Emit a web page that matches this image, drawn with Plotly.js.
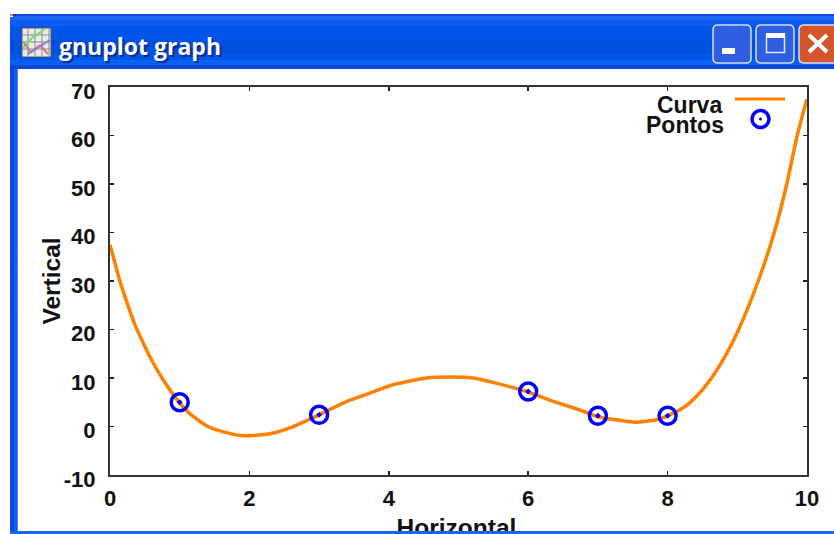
<!DOCTYPE html>
<html>
<head>
<meta charset="utf-8">
<script src="https://cdn.plot.ly/plotly-3.0.1.min.js"></script>
<style>
html,body{margin:0;padding:0;background:#fff;overflow:hidden;width:834px;height:534px}
#wrap{position:relative;width:834px;height:534px;overflow:hidden}
#chart{position:absolute;left:0;top:0;width:834px;height:531px}
#strip{position:absolute;left:10px;top:531px;width:824px;height:3px;background:#1a68ee}
g.ytick{transform:translateY(4px)}
g.g-ytitle{transform:translateX(10px)}
g.g-xtitle{transform:translate(-2px,2px)}
</style>
</head>
<body>
<div id="wrap"><div id="chart"></div><div id="strip"></div></div>
<script>
var curveName = "Curva";
var pointsName = "Pontos";
var windowTitle = "gnuplot graph";
var curveX = [0,0.14,0.24,0.36,0.48,0.6,0.765,0.98,1.15,1.39,1.63,1.91,2.3,2.6,2.98,3.4,3.73,4.06,4.54,4.88,5.21,5.55,5.98,6.3,6.74,6.98,7.25,7.53,7.84,7.98,8.22,8.42,8.63,8.83,9.02,9.3,9.53,9.71,9.86,9.97,10];
var curveY = [37.5,30.1,25.7,20.9,17.1,13.6,9.6,5.2,2.6,0.1,-1.1,-1.9,-1.5,-0.2,2.3,5.2,6.9,8.6,10.0,10.2,10.0,8.9,7.2,5.5,3.4,2.1,1.4,0.9,1.4,2.1,3.8,6.3,10,14.6,20,30,40,50,60,66,67.5];
var pointX = [1,3,6,7,8];
var pointY = [5,2.4,7.2,2.2,2.2];
var xTicks = [0,2,4,6,8,10];
var yTicks = [-10,0,10,20,30,40,50,60,70];

var L=110,R=807,T=87,B=475;
function px(x){return (x-L)/(R-L);}
function py(y){return (B-y)/(B-T);}
function rect(x0,y0,x1,y1,fill,line,lw){
  return {type:'rect',xref:'paper',yref:'paper',x0:px(x0),x1:px(x1),y0:py(y0),y1:py(y1),
    fillcolor:fill,line:{color:line||fill,width:lw||0},layer:'below'};
}
function seg(x0,y0,x1,y1,color,w){
  return {type:'line',xref:'paper',yref:'paper',x0:px(x0),x1:px(x1),y0:py(y0),y1:py(y1),
    line:{color:color,width:w},layer:'below'};
}
var shapes=[];
shapes.push(rect(10,14,17.5,531,'#0a46e2'));
shapes.push(rect(14,14,17.5,531,'#1060ee'));
var bands=[[14,16,'#0a48d8'],[16,20,'#1a66f0'],[20,26,'#0c5cf0'],[26,40,'#0054e8'],[40,54,'#0050e0'],[54,60,'#0056e8'],[60,65,'#0a60f0'],[65,69,'#0848d4']];
bands.forEach(function(b){shapes.push(rect(10,b[0],834,b[1],b[2]));});
shapes.push(rect(10,14,13,17,'#ffffff'));
shapes.push(seg(10,15,16,15,'#333344',1));
shapes.push(rect(22,28,51,57,'#e8ece8','#555566',1));
[28,35,42,49].forEach(function(x){shapes.push(seg(x,28,x,57,'#8a8a8a',1));});
[35,42,49].forEach(function(y){shapes.push(seg(22,y,51,y,'#8a8a8a',1));});
shapes.push(seg(23,48,32,38,'#70e070',2));
shapes.push(seg(32,38,45,29,'#70e070',2));
shapes.push(seg(23,42,31,52,'#e07070',2));
shapes.push(seg(31,52,40,45,'#e07070',2));
shapes.push(seg(40,45,48,54,'#e07070',2));
shapes.push(seg(28,54,50,40,'#8080e0',2));
function button(x0,x1,fill){
  var a=px(x0),b=px(x1),t=py(25),u=py(63);
  var rx=5/(R-L),ry=5/(B-T);
  return {type:'path',xref:'paper',yref:'paper',layer:'below',fillcolor:fill,line:{color:'#d4e0f8',width:1.5},
   path:'M'+(a+rx)+','+t+' L'+(b-rx)+','+t+' Q'+b+','+t+' '+b+','+(t-ry)+' L'+b+','+(u+ry)+' Q'+b+','+u+' '+(b-rx)+','+u+' L'+(a+rx)+','+u+' Q'+a+','+u+' '+a+','+(u+ry)+' L'+a+','+(t-ry)+' Q'+a+','+t+' '+(a+rx)+','+t+' Z'};
}
shapes.push(button(713,751,'#2f5ee0'));
shapes.push(button(756,794,'#2f5ee0'));
shapes.push(button(799,840,'#d4552c'));
shapes.push(rect(722,48,735,54,'#ffffff'));
shapes.push(rect(766.5,35.5,784.5,52.5,'rgba(0,0,0,0)','#dfe8fb',1.5));
shapes.push(rect(766,33,785,38,'#ffffff'));
shapes.push(seg(809,35,827,52,'#ffffff',4));
shapes.push(seg(827,35,809,52,'#ffffff',4));
shapes.push(seg(735,99,785,99,'#ff8000',3));
shapes.push({type:'circle',xref:'paper',yref:'paper',x0:px(752),x1:px(769),y0:py(110.5),y1:py(127.5),
  line:{color:'#0000ff',width:3.5},layer:'below'});
shapes.push({type:'circle',xref:'paper',yref:'paper',x0:px(759),x1:px(762),y0:py(117.5),y1:py(120.5),
  fillcolor:'#0000ff',line:{color:'#0000ff',width:0},layer:'below'});

function note(text,x,y,anchor,size,color,extra){
  var f={family:'"Liberation Sans",Arial,sans-serif',size:size,color:color};
  if(extra){for(var k in extra){f[k]=extra[k];}}
  return {text:'<b>'+text+'</b>',xref:'paper',yref:'paper',x:px(x),y:py(y),xanchor:anchor,yanchor:'middle',
    showarrow:false,font:f,borderpad:0};
}
var annotations=[
  note(curveName,723,105,'right',23,'#111111'),
  note(pointsName,725,125,'right',23,'#111111'),
  note(windowTitle,58,46,'left',23,'#ffffff',{family:'"Open Sans","Noto Sans",sans-serif',shadow:'2px 2px 1px #0a2a90'})
];

var axisFont={family:'"Liberation Sans",Arial,sans-serif',size:22,color:'#111111',weight:700};
var titleFont={family:'"Liberation Sans",Arial,sans-serif',size:24.5,color:'#111111',weight:700};

var traces=[
 {x:curveX,y:curveY,name:curveName,mode:'lines',line:{color:'#ff8000',width:3.5,shape:'spline',smoothing:0.6},cliponaxis:true,hoverinfo:'skip'},
 {x:pointX,y:pointY,name:pointsName,mode:'markers',marker:{symbol:'circle-open-dot',size:17,color:'#0000ff',line:{color:'#0000ff',width:3.5}},hoverinfo:'skip'}
];
var layout={
 width:834,height:531,showlegend:false,
 margin:{l:L,r:834-R,t:T,b:531-B,pad:0},
 paper_bgcolor:'#ffffff',plot_bgcolor:'rgba(0,0,0,0)',
 xaxis:{range:[0,10],tickmode:'array',tickvals:xTicks,ticktext:xTicks.map(String),showgrid:false,zeroline:false,
   showline:true,linecolor:'#333333',linewidth:2,mirror:'ticks',ticks:'inside',ticklen:4,tickwidth:1.5,tickcolor:'#222222',
   tickfont:axisFont,ticklabelstandoff:3,automargin:false,
   title:{text:'Horizontal',font:titleFont,standoff:6}},
 yaxis:{range:[-10,70],tickmode:'array',tickvals:yTicks,ticktext:yTicks.map(String),showgrid:false,zeroline:false,
   showline:true,linecolor:'#333333',linewidth:2,mirror:'ticks',ticks:'inside',ticklen:4,tickwidth:1.5,tickcolor:'#222222',
   tickfont:axisFont,ticklabelstandoff:8,automargin:false,
   title:{text:'Vertical',font:titleFont,standoff:6}},
 shapes:shapes,annotations:annotations
};
Plotly.newPlot('chart',traces,layout,{displayModeBar:false,responsive:false,staticPlot:true});
</script>
</body>
</html>
